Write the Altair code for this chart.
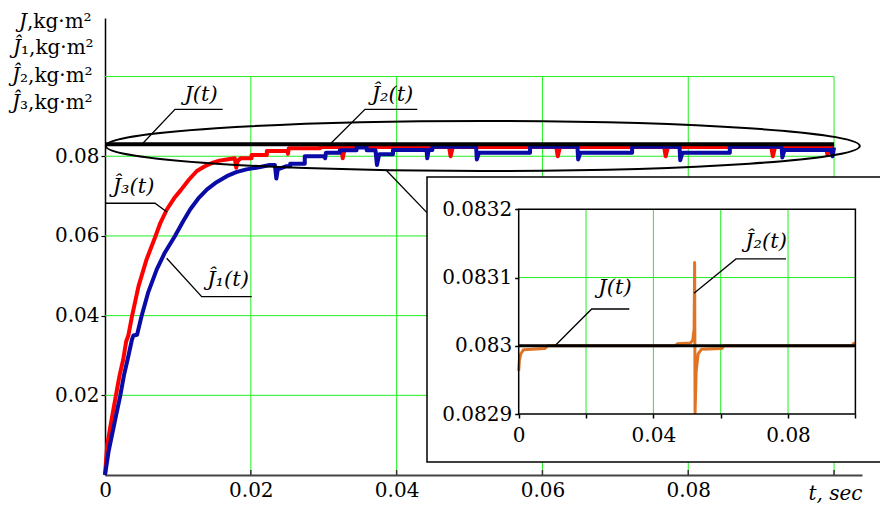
import altair as alt
import pandas as pd

FONT = "DejaVu Serif"
FONT_IT = "DejaVu Serif"

# ---------------- data ----------------
j_true = 0.083

# J^_3(t)  (red)
red_t = [0, 0.0003, 0.0009, 0.0015, 0.0020, 0.0025, 0.0029, 0.0032, 0.0037, 0.0046,
         0.0057, 0.0069, 0.0076, 0.0085, 0.0095, 0.0104, 0.0115, 0.0126, 0.0137, 0.0148,
         0.0157, 0.0167, 0.0178, 0.0180, 0.0182, 0.0186, 0.0201, 0.0201, 0.0222, 0.0222,
         0.0250, 0.0251, 0.0252, 0.0295, 0.0295, 0.0324, 0.0326, 0.0329, 0.0472, 0.0474,
         0.0477, 0.0619, 0.0621, 0.0624, 0.0767, 0.0769, 0.0772, 0.0914, 0.0916, 0.0919,
         0.0989, 0.0991, 0.0994, 0.1000]
red_v = [0, 0.0075, 0.0139, 0.0200, 0.0250, 0.0290, 0.0335, 0.0350, 0.0398, 0.0474,
         0.0541, 0.0598, 0.0633, 0.0667, 0.0695, 0.0715, 0.0741, 0.0763, 0.0775, 0.0784,
         0.0789, 0.0792, 0.0795, 0.0771, 0.0788, 0.0795, 0.0795, 0.0803, 0.0803, 0.0813,
         0.0813, 0.0806, 0.0820, 0.0820, 0.0823, 0.0823, 0.0795, 0.0823, 0.0823, 0.0800,
         0.0823, 0.0823, 0.0800, 0.0823, 0.0823, 0.0800, 0.0823, 0.0823, 0.0800, 0.0823,
         0.0823, 0.0803, 0.0823, 0.0823]

# J^_1(t)  (blue)
blue_t = [0, 0.0005, 0.0014, 0.0021, 0.0026, 0.0031, 0.0037, 0.0039, 0.0044, 0.0050,
          0.0059, 0.0071, 0.0082, 0.0096, 0.0107, 0.0117, 0.0128, 0.0140, 0.0153, 0.0167,
          0.0180, 0.0194, 0.0213, 0.0226, 0.0233, 0.0235, 0.0237, 0.0249, 0.0254, 0.0254,
          0.0274, 0.0274, 0.0301, 0.0302, 0.0303, 0.0322, 0.0322, 0.0345, 0.0345, 0.0359,
          0.0359, 0.0371, 0.0373, 0.0376, 0.0395, 0.0395, 0.0441, 0.0442, 0.0444, 0.0449,
          0.0449, 0.0509, 0.0510, 0.0513, 0.0583, 0.0583, 0.0648, 0.0649, 0.0652, 0.0723,
          0.0723, 0.0788, 0.0789, 0.0792, 0.0857, 0.0857, 0.0928, 0.0929, 0.0932, 0.0996,
          0.0998, 0.1000]
blue_v = [0, 0.0060, 0.0139, 0.0200, 0.0250, 0.0290, 0.0340, 0.0350, 0.0352, 0.0398,
          0.0457, 0.0516, 0.0558, 0.0600, 0.0636, 0.0667, 0.0694, 0.0717, 0.0735, 0.0750,
          0.0760, 0.0767, 0.0773, 0.0778, 0.0778, 0.0744, 0.0767, 0.0775, 0.0775, 0.0781,
          0.0781, 0.0800, 0.0800, 0.0795, 0.0809, 0.0809, 0.0815, 0.0815, 0.0822, 0.0822,
          0.0815, 0.0815, 0.0778, 0.0805, 0.0805, 0.0816, 0.0816, 0.0795, 0.0816, 0.0816,
          0.0824, 0.0824, 0.0792, 0.0809, 0.0809, 0.0824, 0.0824, 0.0792, 0.0809, 0.0809,
          0.0824, 0.0824, 0.0790, 0.0809, 0.0809, 0.0824, 0.0824, 0.0797, 0.0816, 0.0816,
          0.0800, 0.0822]

# J^_2(t)  (orange, inset)
orange_t = [0, 0.0002, 0.0006, 0.0014, 0.0078, 0.0086, 0.0465, 0.0471, 0.0510, 0.0517,
            0.0521, 0.05225, 0.05238, 0.0527, 0.0533, 0.0543, 0.0603, 0.0610, 0.0990,
            0.0994, 0.1000]
orange_v = [0.082963, 0.082978, 0.082988, 0.082994, 0.082996, 0.083000, 0.083000,
            0.083003, 0.083004, 0.083008, 0.083025, 0.083122, 0.082902, 0.082962,
            0.082988, 0.082995, 0.082996, 0.083000, 0.083000, 0.083003, 0.083004]

main_x_ticks = [0, 0.02, 0.04, 0.06, 0.08, 0.1]
main_y_ticks = [0.02, 0.04, 0.06, 0.08]
main_grid = [0.02, 0.04, 0.06, 0.08, 0.1]
inset_x_ticks = [0, 0.02, 0.04, 0.06, 0.08, 0.1]
inset_y_ticks = [0.0829, 0.083, 0.0831, 0.0832]
inset_x_grid = [0.02, 0.04, 0.06, 0.08]
inset_y_grid = [0.083, 0.0831]

# ---------------- layout ----------------
W, H = 757, 457
MAIN_X_DOMAIN = [0, 0.10383]
MAIN_Y_DOMAIN = [0, 0.1147]
INSET_X_DOMAIN = [0, 0.1]
INSET_Y_DOMAIN = [0.0829, 0.0832]
INSET_X_RANGE = [413.7, 750.4]
INSET_Y_RANGE = [396, 191.3]

GREEN = "#22ee22"
RED = "#ff0000"
BLUE = "#0a0aa6"
ORANGE = "#e07424"

one = pd.DataFrame({"a": [0]})

# ---------------- main plot ----------------
xs = alt.Scale(domain=MAIN_X_DOMAIN, nice=False, zero=False)
ys = alt.Scale(domain=MAIN_Y_DOMAIN, nice=False, zero=False)

x_axis = alt.Axis(
    values=main_x_ticks,
    labelExpr="datum.value == 0 ? '0' : (datum.value > 0.099 ? '' : format(datum.value, '.2f'))",
    ticks=False, tickSize=0, grid=False, domainColor="#444444", domainWidth=2,
    labelFont=FONT, labelFontSize=20, labelColor="black", labelPadding=5,
    labelFlush=False, labelOverlap=False,
    title="t, sec", titleFont=FONT_IT, titleFontSize=20, titleFontStyle="italic",
    titleFontWeight="normal", titleColor="black", titleX=W, titleY=24,
    titleAlign="right", titleBaseline="alphabetic",
)
y_axis = alt.Axis(
    values=main_y_ticks, format=".2f", grid=False, ticks=True, tickSize=4,
    tickColor="black", tickWidth=1.2, domainColor="black", domainWidth=1.5,
    labelFont=FONT, labelFontSize=20, labelColor="black", labelPadding=2,
    labelFlush=False, title=None,
)
X = alt.X("t:Q", scale=xs, axis=x_axis)
Y = alt.Y("v:Q", scale=ys, axis=y_axis)

gmax = max(main_grid)
grid_df = pd.concat([
    pd.DataFrame({"t": main_grid, "t2": main_grid, "v": [0] * len(main_grid), "v2": [gmax] * len(main_grid)}),
    pd.DataFrame({"t": [0] * len(main_grid), "t2": [gmax] * len(main_grid), "v": main_grid, "v2": main_grid}),
])
grid = alt.Chart(grid_df).mark_rule(color=GREEN, strokeWidth=1).encode(
    x=X, x2="t2:Q", y=Y, y2="v2:Q")

red_df = pd.DataFrame({"t": red_t, "v": red_v, "i": range(len(red_t))})
blue_df = pd.DataFrame({"t": blue_t, "v": blue_v, "i": range(len(blue_t))})
red = alt.Chart(red_df).mark_line(color=RED, strokeWidth=4, strokeJoin="round").encode(
    x=X, y=Y, order="i:Q")
blue = alt.Chart(blue_df).mark_line(color=BLUE, strokeWidth=4, strokeJoin="round").encode(
    x=X, y=Y, order="i:Q")

jl_df = pd.DataFrame({"t": [0, gmax], "v": [j_true, j_true], "i": [0, 1]})
jline = alt.Chart(jl_df).mark_line(color="black", strokeWidth=4).encode(x=X, y=Y, order="i:Q")

ELLIPSE = "M -1 0 A 1 0.0663 0 1 0 1 0 A 1 0.0663 0 1 0 -1 0 Z"
ell_df = pd.DataFrame({"t": [0.05182], "v": [0.08258]})
ellipse = alt.Chart(ell_df).mark_point(
    shape=ELLIPSE, size=754 ** 2, filled=False, stroke="black", strokeWidth=2, opacity=1
).encode(x=X, y=Y)

lead_df = pd.DataFrame({
    "id": ["J"] * 3 + ["J2"] * 3 + ["J3"] * 3 + ["J1"] * 3 + ["zoom"] * 2,
    "k": [0, 1, 2] * 4 + [0, 1],
    "t": [0.00507, 0.00960, 0.01614, 0.03086, 0.03566, 0.04283,
          0.00014, 0.00686, 0.00850, 0.00846, 0.01326, 0.02012, 0.03864, 0.04416],
    "v": [0.0830, 0.09179, 0.09179, 0.0830, 0.09179, 0.09179,
          0.06820, 0.06820, 0.06601, 0.05439, 0.04475, 0.04475, 0.07638, 0.06584],
})
leaders = alt.Chart(lead_df).mark_line(color="black", strokeWidth=1.3).encode(
    x=X, y=Y, detail="id:N", order="k:Q")

lab_df = pd.DataFrame({
    "t": [0.01317, 0.03943, 0.00391, 0.01687],
    "v": [0.09538, 0.09538, 0.07229, 0.04882],
    "label": ["J(t)", "Ĵ₂(t)", "Ĵ₃(t)", "Ĵ₁(t)"],
})
labels = alt.Chart(lab_df).mark_text(
    font=FONT_IT, fontSize=21, fontStyle="italic", color="black", align="center", baseline="middle"
).encode(x=X, y=Y, text="label:N")

xt_df = pd.DataFrame({"t": main_grid})
xticks = alt.Chart(xt_df).mark_rule(color="#333333", strokeWidth=1.5).encode(
    x=X, y=alt.value(H), y2=alt.value(H - 5))

title_layers = []
title_pieces = [("J", ",kg·m²", -78, 10), ("Ĵ", "₁,kg·m²", -84, 36),
                ("Ĵ", "₂,kg·m²", -85, 64), ("Ĵ", "₃,kg·m²", -85, 91)]
for it, rest, px, py in title_pieces:
    title_layers.append(alt.Chart(one).mark_text(
        font=FONT_IT, fontSize=20, fontStyle="italic", color="black", align="right", baseline="alphabetic"
    ).encode(x=alt.value(px), y=alt.value(py), text=alt.value(it)))
    title_layers.append(alt.Chart(one).mark_text(
        font=FONT, fontSize=20, color="black", align="left", baseline="alphabetic"
    ).encode(x=alt.value(px), y=alt.value(py), text=alt.value(rest)))

main = alt.layer(grid, red, blue, jline, ellipse, leaders, labels, xticks, *title_layers)

# ---------------- inset ----------------
ixs = alt.Scale(domain=INSET_X_DOMAIN, range=INSET_X_RANGE, nice=False, zero=False)
iys = alt.Scale(domain=INSET_Y_DOMAIN, range=INSET_Y_RANGE, nice=False, zero=False)
ix_axis = alt.Axis(
    orient="bottom", offset=INSET_Y_RANGE[0] - H, values=inset_x_ticks,
    labelExpr="datum.value < 1e-9 ? '0' : ((abs(datum.value - 0.04) < 1e-9 || abs(datum.value - 0.08) < 1e-9) ? format(datum.value, '.2f') : '')",
    domain=False, ticks=True, tickSize=4, tickColor="black", tickWidth=1.5, grid=False,
    labelFont=FONT, labelFontSize=20, labelColor="black", labelPadding=7,
    labelFlush=False, labelOverlap=False, title=None, zindex=1,
)
iy_axis = alt.Axis(
    orient="left", offset=-INSET_X_RANGE[0], values=inset_y_ticks, format=".4~f",
    domain=False, ticks=True, tickSize=4, tickColor="black", tickWidth=1.5, grid=False,
    labelFont=FONT, labelFontSize=20, labelColor="black", labelPadding=3,
    labelFlush=False, labelOverlap=False, title=None, zindex=1,
)
IX = alt.X("it:Q", scale=ixs, axis=ix_axis)
IY = alt.Y("iv:Q", scale=iys, axis=iy_axis)

box = alt.Chart(one).mark_rect(fill="white", stroke="black", strokeWidth=1.5).encode(
    x=alt.value(322), x2=alt.value(790), y=alt.value(159), y2=alt.value(444))

ig_df = pd.concat([
    pd.DataFrame({"it": inset_x_grid, "it2": inset_x_grid,
                  "iv": [INSET_Y_DOMAIN[0]] * len(inset_x_grid), "iv2": [INSET_Y_DOMAIN[1]] * len(inset_x_grid)}),
    pd.DataFrame({"it": [INSET_X_DOMAIN[0]] * len(inset_y_grid), "it2": [INSET_X_DOMAIN[1]] * len(inset_y_grid),
                  "iv": inset_y_grid, "iv2": inset_y_grid}),
])
igrid = alt.Chart(ig_df).mark_rule(color=GREEN, strokeWidth=1).encode(
    x=IX, x2="it2:Q", y=IY, y2="iv2:Q")

or_df = pd.DataFrame({"it": orange_t, "iv": orange_v, "i": range(len(orange_t))})
orange = alt.Chart(or_df).mark_line(color=ORANGE, strokeWidth=3, strokeJoin="round").encode(
    x=IX, y=IY, order="i:Q")

ij_df = pd.DataFrame({"it": INSET_X_DOMAIN, "iv": [j_true, j_true], "i": [0, 1]})
ijline = alt.Chart(ij_df).mark_line(color="black", strokeWidth=3).encode(x=IX, y=IY, order="i:Q")

fr_df = pd.DataFrame({"it": [INSET_X_DOMAIN[0]], "it2": [INSET_X_DOMAIN[1]],
                      "iv": [INSET_Y_DOMAIN[0]], "iv2": [INSET_Y_DOMAIN[1]]})
frame = alt.Chart(fr_df).mark_rect(fillOpacity=0, stroke="black", strokeWidth=1.5).encode(
    x=IX, x2="it2:Q", y=IY, y2="iv2:Q")

ilead_df = pd.DataFrame({
    "id": ["J"] * 3 + ["J2"] * 3,
    "k": [0, 1, 2] * 2,
    "it": [0.01078, 0.02168, 0.03285, 0.05206, 0.06454, 0.07939],
    "iv": [0.083, 0.0830539, 0.0830539, 0.0830769, 0.0831272, 0.0831272],
})
ileaders = alt.Chart(ilead_df).mark_line(color="black", strokeWidth=1.3).encode(
    x=IX, y=IY, detail="id:N", order="k:Q")

ilab_df = pd.DataFrame({"it": [0.0286, 0.07345], "iv": [0.083084, 0.0831521],
                        "label": ["J(t)", "Ĵ₂(t)"]})
ilabels = alt.Chart(ilab_df).mark_text(
    font=FONT_IT, fontSize=21, fontStyle="italic", color="black", align="center", baseline="middle"
).encode(x=IX, y=IY, text="label:N")

inset = alt.layer(box, igrid, orange, ijline, frame, ileaders, ilabels)

chart = alt.layer(main, inset).resolve_scale(
    x="independent", y="independent"
).properties(
    width=W, height=H,
    autosize=alt.AutoSizeParams(type="none"),
    padding={"left": 105, "top": 18, "right": 18, "bottom": 30},
).configure_view(stroke=None)

chart.save("out.html", embed_options={"renderer": "svg", "actions": False})
